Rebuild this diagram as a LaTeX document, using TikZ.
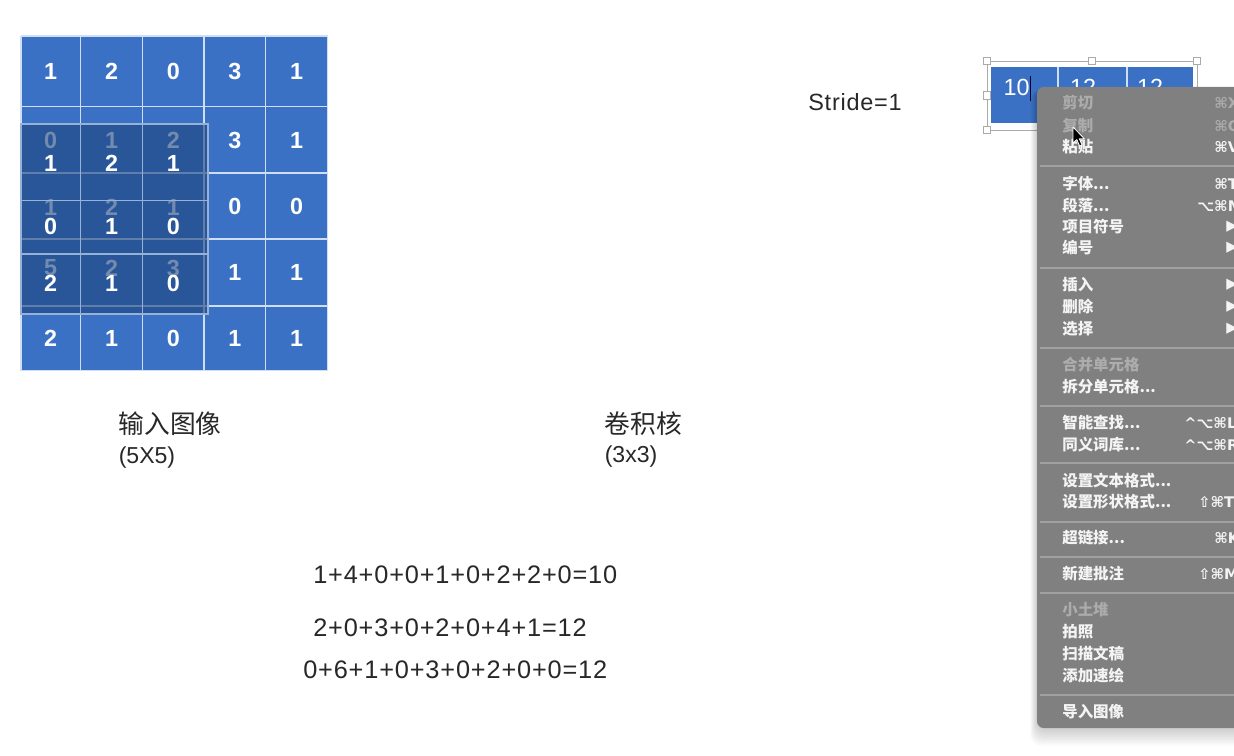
\documentclass[tikz,border=0pt]{standalone}
\usepackage{fontspec}
\setmainfont{Liberation Sans}
\newfontfamily\cjk{Noto Sans CJK SC}
\newfontfamily\eqf[LetterSpace=3.3]{Liberation Sans}
\newfontfamily\symf{DejaVu Sans}
\newcommand\mdots{.{}.{}.}
\definecolor{cellblue}{RGB}{59,113,196}
\definecolor{kernfill}{RGB}{30,68,127}
\definecolor{gridline}{RGB}{205,222,245}
\definecolor{kernline}{RGB}{150,178,215}
\definecolor{menugray}{RGB}{128,128,128}
\definecolor{menutext}{RGB}{244,244,244}
\definecolor{menudis}{RGB}{172,172,172}
\definecolor{menusep}{RGB}{160,160,160}
\definecolor{labeltext}{RGB}{40,40,40}
\definecolor{framegray}{RGB}{170,170,170}
\tikzset{
  x=0.75pt, y=-0.75pt,
  gnum/.style={inner sep=0pt, text=white, font=\fontsize{17.5}{20}\selectfont\bfseries},
  fnum/.style={gnum},
  onum/.style={inner sep=0pt, text=white, font=\fontsize{17.5}{20}\selectfont},
  cjklabel/.style={inner sep=0pt, anchor=west, text=labeltext, font=\cjk\fontsize{19.3}{22}\selectfont},
  latlabel/.style={inner sep=0pt, anchor=base west, text=labeltext, font=\fontsize{17.3}{20}\selectfont},
  eqlabel/.style={inner sep=0pt, anchor=base west, text=labeltext, font=\eqf\fontsize{19}{22}\selectfont},
  gline/.style={draw=gridline, line width=0.9pt},
  kline/.style={draw=kernline, line width=0.8pt},
  menuitem/.style={inner sep=0pt, anchor=west, font=\cjk\bfseries\fontsize{11.6}{14}\selectfont},
  shortcut/.style={inner sep=0pt, anchor=west, font=\symf\bfseries\fontsize{11}{13}\selectfont},
  msep/.style={draw=menusep, line width=1.3pt},
  handle/.style={draw=framegray, fill=white, line width=0.5pt, minimum size=5.5pt, inner sep=0pt, rectangle}
}
\begin{document}
\begin{tikzpicture}
\useasboundingbox (0,0) rectangle (1234,756);
\clip (0,0) rectangle (1234,756);
\fill[white] (0,0) rectangle (1234,756);

% ---------- input image 5x5 ----------
\fill[cellblue] (21,36) rectangle (327.7,370.7);
\foreach \xx in {21,80.3,142.7,204,265.7,327.7}
  \draw[gline] (\xx,36) -- (\xx,370.7);
\foreach \yy in {36,106.7,173,239,306,370.7}
  \draw[gline] (21,\yy) -- (327.7,\yy);

\node[gnum] (i11) at (50.7,71.4) {1};
\node[gnum] (i12) at (111.5,71.4) {2};
\node[gnum] (i13) at (173.3,71.4) {0};
\node[gnum] (i14) at (234.8,71.4) {3};
\node[gnum] (i15) at (296.7,71.4) {1};
\node[gnum] (i24) at (234.8,140) {3};
\node[gnum] (i25) at (296.7,140) {1};
\node[gnum] (i34) at (234.8,206) {0};
\node[gnum] (i35) at (296.7,206) {0};
\node[gnum] (i44) at (234.8,272.5) {1};
\node[gnum] (i45) at (296.7,272.5) {1};
\node[gnum] (i51) at (50.7,338.4) {2};
\node[gnum] (i52) at (111.5,338.4) {1};
\node[gnum] (i53) at (173.3,338.4) {0};
\node[gnum] (i54) at (234.8,338.4) {1};
\node[gnum] (i55) at (296.7,338.4) {1};
% input values under the kernel (seen through it)
\node[fnum] (i21) at (50.7,140) {0};
\node[fnum] (i22) at (111.5,140) {1};
\node[fnum] (i23) at (173.3,140) {2};
\node[fnum] (i31) at (50.7,207) {1};
\node[fnum] (i32) at (111.5,207) {2};
\node[fnum] (i33) at (173.3,207) {1};
\node[fnum] (i41) at (50.7,268) {5};
\node[fnum] (i42) at (111.5,268) {2};
\node[fnum] (i43) at (173.3,268) {3};

% ---------- kernel overlay ----------
\fill[kernfill, fill opacity=0.62] (21,124) rectangle (208,314);
\draw[kline] (21,124) rectangle (208,314);
\draw[kline] (80.3,124) -- (80.3,314) (142.7,124) -- (142.7,314);
\draw[kline] (21,200.7) -- (208,200.7) (21,254) -- (208,254);
\node[gnum] (k11) at (50.7,163.3) {1};
\node[gnum] (k12) at (111.5,163.3) {2};
\node[gnum] (k13) at (173.3,163.3) {1};
\node[gnum] (k21) at (50.7,226) {0};
\node[gnum] (k22) at (111.5,226) {1};
\node[gnum] (k23) at (173.3,226) {0};
\node[gnum] (k31) at (50.7,283) {2};
\node[gnum] (k32) at (111.5,283) {1};
\node[gnum] (k33) at (173.3,283) {0};

% ---------- labels ----------
\node[cjklabel] (inlab) at (118.5,423.5) {输入图像};
\node[latlabel] (insize) at (118.5,463) {(5X5)};
\node[cjklabel] (klab) at (604.5,423.5) {卷积核};
\node[latlabel] (ksize) at (604.5,462) {(3x3)};
\node[latlabel, font=\eqf\fontsize{17.6}{20}\selectfont] (stride) at (808,111) {Stride=1};
\node[eqlabel] (eq1) at (313,583.3) {1+4+0+0+1+0+2+2+0=10};
\node[eqlabel] (eq2) at (313,636.7) {2+0+3+0+2+0+4+1=12};
\node[eqlabel] (eq3) at (303,678.3) {0+6+1+0+3+0+2+0+0=12};

% ---------- output table with selection frame ----------
\draw[framegray, line width=0.6pt] (987,61) rectangle (1197,130);
\fill[cellblue] (991,67) rectangle (1193,123);
\draw[gline] (1058,67) -- (1058,123) (1127,67) -- (1127,123);
\node[onum] (o1) at (1016.5,87) {10};
\node[onum] (o2) at (1083,87) {12};
\node[onum] (o3) at (1150,87) {12};
\draw[black!80!blue, line width=0.9pt] (1030.5,76) -- (1030.5,101);
\node[handle] (h1) at (987,61) {};
\node[handle] (h2) at (1092,61) {};
\node[handle] (h3) at (1197,61) {};
\node[handle] (h4) at (987,95.5) {};
\node[handle] (h5) at (987,130) {};

% ---------- context menu ----------
\foreach \k in {1,...,8}
  \fill[black, fill opacity=0.025, rounded corners=8] (1037-\k*0.8,87+\k*0.3) rectangle (1262,728+\k*2.2);
\fill[menugray, rounded corners=5] (1037,87) rectangle (1262,728);
\foreach \yy in {166,268,348,406,463,522,557,593,695}
  \draw[msep] (1039.5,\yy) -- (1240,\yy);
\foreach \yy/\txt/\clr in {103/剪切/menudis, 126/复制/menudis, 147/粘贴/menutext,
  184/字体\mdots/menutext, 206/段落\mdots/menutext, 227/项目符号/menutext, 248/编号/menutext,
  285/插入/menutext, 307/删除/menutext, 329/选择/menutext,
  365/合并单元格/menudis, 387/拆分单元格\mdots/menutext,
  423/智能查找\mdots/menutext, 445/同义词库\mdots/menutext,
  481/设置文本格式\mdots/menutext, 502/设置形状格式\mdots/menutext,
  538/超链接\mdots/menutext, 574/新建批注/menutext,
  610/小土堆/menudis, 632/拍照/menutext, 654/扫描文稿/menutext, 676/添加速绘/menutext,
  712/导入图像/menutext}
  \node[menuitem, text=\clr] (m\yy) at (1062,\yy) {\txt};
\node[shortcut, text=menudis] (s1) at (1214,103) {⌘X};
\node[shortcut, text=menudis] (s2) at (1214,126) {⌘C};
\node[shortcut, text=menutext] (s3) at (1214,147) {⌘V};
\node[shortcut, text=menutext] (s4) at (1214,184) {⌘T};
\node[shortcut, text=menutext] (s5) at (1197,206) {⌥⌘M};
\foreach \yy in {227,248,285,307,329}
  \node[shortcut, text=menutext] (t\yy) at (1226,\yy) {▶};
\node[shortcut, text=menutext] (s6) at (1184,423) {\textasciicircum⌥⌘L};
\node[shortcut, text=menutext] (s7) at (1184,445) {\textasciicircum⌥⌘R};
\node[shortcut, text=menutext] (s8) at (1198,502) {⇧⌘T};
\node[shortcut, text=menutext] (s9) at (1214,538) {⌘K};
\node[shortcut, text=menutext] (s10) at (1198,574) {⇧⌘M};

% mouse pointer
\draw[white, line width=0.6pt, fill=black, line join=round]
  (1073,127) -- (1073,143) -- (1076.8,139.6) -- (1079.6,146) -- (1082,145) -- (1079.3,138.8) -- (1084.4,138.8) -- cycle;
\end{tikzpicture}
\end{document}
